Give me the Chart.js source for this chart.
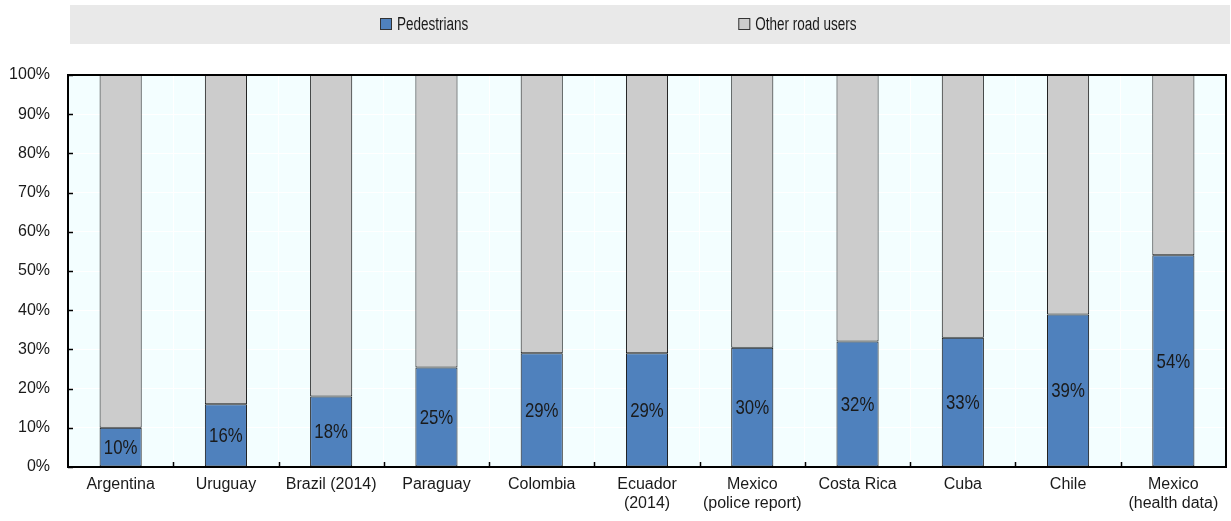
<!DOCTYPE html>
<html>
<head>
<meta charset="utf-8">
<script src="https://cdn.jsdelivr.net/npm/chart.js@4.4.1/dist/chart.umd.min.js"></script>
<style>
  html, body { margin: 0; padding: 0; background: #fff; }
  #wrap { width: 1231px; height: 521px; }
</style>
</head>
<body>
<div id="wrap"><canvas id="grafico"></canvas></div>
<script>
// dados
const paises = ['Argentina', 'Uruguay', 'Brazil (2014)', 'Paraguay', 'Colombia', ['Ecuador', '(2014)'],
    ['Mexico', '(police report)'], 'Costa Rica', 'Cuba', 'Chile', ['Mexico', '(health data)']];
const pedestres = [10, 16, 18, 25.4, 29, 29, 30.4, 32, 33, 38.9, 54];
const outros = pedestres.map(v => 100 - v);
const rotulosPedestres = ['10%', '16%', '18%', '25%', '29%', '29%', '30%', '32%', '33%', '39%', '54%'];
const ticksY = [0, 10, 20, 30, 40, 50, 60, 70, 80, 90, 100];

const FONTE = "'Liberation Sans', Arial, sans-serif";

// texto com largura reduzida (não há fonte estreita instalada)
function textoEstreito(ctx, texto, x, y, fator) {
    ctx.save();
    ctx.translate(x, y);
    ctx.scale(fator, 1);
    ctx.fillText(texto, 0, 0);
    ctx.restore();
}

// fundo da área do gráfico
const fundoPlugin = {
    id: 'fundo',
    beforeDraw(chart) {
        const { ctx, chartArea: a } = chart;
        ctx.save();
        ctx.fillStyle = '#F3FEFF';
        ctx.fillRect(a.left, a.top, a.right - a.left, a.bottom - a.top);
        ctx.restore();
    }
};

// legenda com faixa cinza
const legendaPlugin = {
    id: 'legendaFaixa',
    afterDraw(chart) {
        const { ctx, chartArea: a } = chart;
        const fator = 0.75;
        ctx.save();
        ctx.fillStyle = '#E9E9E9';
        ctx.fillRect(a.left + 2, 5, a.right - a.left + 2, 39);
        ctx.font = '18px ' + FONTE;
        ctx.textBaseline = 'middle';
        ctx.textAlign = 'left';
        const itens = chart.data.datasets.map(ds => ({ texto: ds.label, cor: ds.backgroundColor }));
        const larguras = itens.map(it => 12 + 5 + ctx.measureText(it.texto).width * fator);
        const gap = 270;
        let x = 380;
        const y = 24;
        itens.forEach((it, i) => {
            ctx.fillStyle = it.cor;
            ctx.fillRect(x, y - 6, 12, 12);
            ctx.strokeStyle = '#333';
            ctx.lineWidth = 1;
            ctx.strokeRect(x + 0.5, y - 5.5, 11, 11);
            ctx.fillStyle = '#1a1a1a';
            textoEstreito(ctx, it.texto, x + 17, y + 1, fator);
            x += larguras[i] + gap;
        });
        ctx.restore();
    }
};

// moldura, marcas internas e rótulos das barras
const molduraPlugin = {
    id: 'moldura',
    afterDatasetsDraw(chart) {
        const { ctx, chartArea: a, scales } = chart;
        ctx.save();
        // rótulos nas barras azuis
        const meta = chart.getDatasetMeta(0);
        ctx.font = '21px ' + FONTE;
        ctx.fillStyle = '#1a1a1a';
        ctx.textAlign = 'center';
        ctx.textBaseline = 'middle';
        meta.data.forEach((bar, i) => {
            const yMeio = (bar.y + bar.base) / 2;
            textoEstreito(ctx, rotulosPedestres[i], bar.x, yMeio + 1, 0.8);
        });
        // marcas
        ctx.strokeStyle = '#000';
        ctx.lineWidth = 1.5;
        ctx.beginPath();
        ticksY.forEach(v => {
            const y = Math.round(scales.y.getPixelForValue(v)) + 0.5;
            ctx.moveTo(a.left, y);
            ctx.lineTo(a.left + 5, y);
        });
        const passo = (a.right - a.left) / paises.length;
        for (let i = 1; i < paises.length; i++) {
            const x = Math.round(a.left + i * passo) + 0.5;
            ctx.moveTo(x, a.bottom);
            ctx.lineTo(x, a.bottom - 5);
        }
        ctx.stroke();
        // moldura
        ctx.lineWidth = 2;
        ctx.strokeRect(a.left, a.top, a.right - a.left, a.bottom - a.top);
        ctx.restore();
    }
};

const ctx = document.getElementById('grafico').getContext('2d');
new Chart(ctx, {
    type: 'bar',
    data: {
        labels: paises,
        datasets: [
            {
                label: 'Pedestrians',
                data: pedestres,
                backgroundColor: '#4F81BD',
                borderColor: '#111',
                borderWidth: 1,
                borderSkipped: false
            },
            {
                label: 'Other road users',
                data: outros,
                backgroundColor: '#CCCCCC',
                borderColor: '#111',
                borderWidth: 1,
                borderSkipped: false
            }
        ]
    },
    options: {
        responsive: true,
        maintainAspectRatio: false,
        animation: false,
        layout: { padding: { top: 75, right: 5, left: 0, bottom: 0 } },
        datasets: { bar: { barPercentage: 0.4, categoryPercentage: 1 } },
        plugins: {
            legend: { display: false },
            tooltip: { enabled: false }
        },
        scales: {
            x: {
                stacked: true,
                grid: { color: '#FFFFFF', lineWidth: 1, offset: true, drawTicks: false },
                border: { display: false },
                ticks: { color: '#1a1a1a', font: { size: 16, family: FONTE }, padding: 8, maxRotation: 0, autoSkip: false },
                afterFit(scale) { scale.height = 54; }
            },
            y: {
                stacked: true,
                min: 0,
                max: 100,
                grid: { color: '#FFFFFF', lineWidth: 1, drawTicks: false },
                border: { display: false },
                ticks: {
                    stepSize: 10,
                    color: '#1a1a1a',
                    font: { size: 16, family: FONTE },
                    padding: 18,
                    callback: v => v + '%'
                },
                afterFit(scale) { scale.width = 68; }
            }
        }
    },
    plugins: [fundoPlugin, legendaPlugin, molduraPlugin]
});
</script>
</body>
</html>
